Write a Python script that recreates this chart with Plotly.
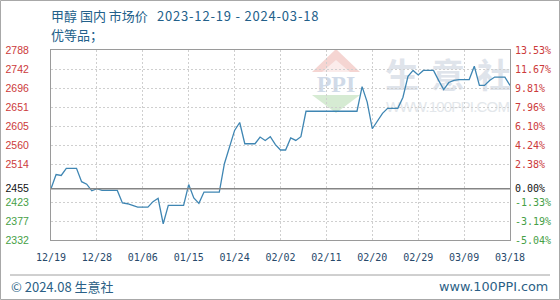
import base64
import pandas as pd
import plotly.graph_objects as go

# ---------------- data ----------------
start_date = "2023-12-19"
end_date = "2024-03-18"
prices = [
    2455, 2489, 2487, 2504, 2504, 2504, 2472, 2466, 2450, 2455,
    2451, 2451, 2451, 2451, 2421, 2419, 2415, 2411, 2411, 2411,
    2424, 2432, 2371, 2415, 2415, 2415, 2415, 2465, 2433, 2420,
    2447, 2447, 2447, 2447, 2515, 2555, 2595, 2614, 2563, 2563,
    2563, 2579, 2571, 2580, 2561, 2548, 2548, 2577, 2571, 2580,
    2641, 2641, 2641, 2641, 2641, 2641, 2641, 2641, 2641, 2641,
    2641, 2700, 2663, 2599, 2619, 2636, 2648, 2648, 2648, 2674,
    2725, 2739, 2728, 2739, 2739, 2739, 2715, 2693, 2710, 2715,
    2717, 2717, 2717, 2749, 2703, 2703, 2715, 2723, 2723, 2723,
    2703,
]
base_price = 2455
y_min, y_max = 2332, 2788
y_tick_vals = [2332, 2377.6, 2423.2, 2455, 2514.4, 2560, 2605.6, 2651.2, 2696.8, 2742.4, 2788]
y_left_labels = ["2332", "2377", "2423", "2455", "2514", "2560", "2605", "2651", "2696", "2742", "2788"]
y_right_labels = ["-5.04%", "-3.19%", "-1.33%", "0.00%", "2.38%", "4.24%", "6.10%", "7.96%", "9.81%", "11.67%", "13.53%"]
x_tick_labels = ["12/19", "12/28", "01/06", "01/15", "01/24", "02/02", "02/11", "02/20", "02/29", "03/09", "03/18"]
title_cjk = "甲醇 国内 市场价"
title_dates = "2023-12-19 - 2024-03-18"
subtitle_text = "优等品；"
footer_left = "© 2024.08 生意社"
footer_right = "www.100PPI.com"

dates = pd.date_range(start_date, end_date, freq="D")
x_tick_vals = pd.date_range(start_date, end_date, freq="9D")

# ---------------- layout geometry ----------------
W, H = 560, 300
L, R, T, B = 51, 50, 50, 60
PW, PH = W - L - R, H - T - B

def px(x):
    return (x - L) / PW

def py(y):
    return (H - B - y) / PH

RED, GREEN, BLACK = "#cc3a3a", "#46a046", "#111111"
TITLE_C = "#22608a"

def colored(labels, vals):
    out = []
    for lab, v in zip(labels, vals):
        c = BLACK if v == base_price else (RED if v > base_price else GREEN)
        out.append(f"<span style='color:{c}'>{lab}</span>")
    return out

fig = go.Figure()
fig.add_trace(go.Scatter(
    x=dates, y=prices, mode="lines",
    line=dict(color="#3f86b3", width=1.3),
    hoverinfo="skip", showlegend=False,
))
fig.add_trace(go.Scatter(
    x=dates, y=prices, mode="lines", yaxis="y2",
    line=dict(color="rgba(0,0,0,0)", width=0),
    hoverinfo="skip", showlegend=False,
))

# watermark as svg image below traces
svg = """<svg xmlns='http://www.w3.org/2000/svg' width='215' height='75' viewBox='0 0 215 75'>
<polygon points='12,27 36,4 60,27' fill='#f5d5d2'/>
<polygon points='22,27 36,15 50,27' fill='#fbeceb'/>
<text x='36' y='47' font-family='Liberation Serif' font-weight='bold' font-size='24' fill='#d0dae8' text-anchor='middle'>PPI</text>
<polygon points='12,50 60,50 36,68' fill='#d6ebd3'/>
<text x='85' y='43' font-family='Noto Sans CJK SC' font-weight='bold' font-size='34' fill='#dfe4eb'>生</text>
<text x='131' y='43' font-family='Noto Sans CJK SC' font-weight='bold' font-size='34' fill='#dfe4eb'>意</text>
<text x='177' y='43' font-family='Noto Sans CJK SC' font-weight='bold' font-size='34' fill='#dfe4eb'>社</text>
<text x='86' y='67' font-family='Liberation Sans' font-size='15' fill='#e3e7eb' textLength='124'>WWW.100PPI.COM</text>
</svg>"""
svg_uri = "data:image/svg+xml;base64," + base64.b64encode(svg.encode("utf-8")).decode()

fig.update_layout(
    width=W, height=H,
    margin=dict(l=L, r=R, t=T, b=B, autoexpand=False),
    paper_bgcolor="white",
    plot_bgcolor="rgba(0,0,0,0)",
    showlegend=False,
    xaxis=dict(
        type="date",
        range=[dates[0], dates[-1]],
        tickvals=x_tick_vals, ticktext=x_tick_labels,
        showgrid=True, gridcolor="#cfcfcf", griddash="2px,2px", gridwidth=1,
        showline=True, linecolor="#9a9a9a", linewidth=1, mirror=True,
        ticks="", zeroline=False, automargin=False,
        tickfont=dict(family="DejaVu Sans Mono", size=10, color="#27496b"),
        ticklabelstandoff=8,
        fixedrange=True,
    ),
    yaxis=dict(
        range=[y_min, y_max],
        tickvals=y_tick_vals, ticktext=colored(y_left_labels, y_tick_vals),
        showgrid=True, gridcolor="#cfcfcf", griddash="2px,2px", gridwidth=1,
        showline=True, linecolor="#9a9a9a", linewidth=1, mirror=True,
        ticks="", zeroline=False, automargin=False,
        tickfont=dict(family="Liberation Sans", size=10.5),
        ticklabelstandoff=19,
        fixedrange=True,
    ),
    yaxis2=dict(
        range=[y_min, y_max], overlaying="y", side="right",
        tickvals=y_tick_vals, ticktext=colored(y_right_labels, y_tick_vals),
        showgrid=False, showline=False, ticks="", zeroline=False, automargin=False,
        tickfont=dict(family="DejaVu Sans Mono", size=10),
        ticklabelstandoff=4,
        fixedrange=True,
    ),
    images=[dict(
        source=svg_uri, xref="paper", yref="paper",
        x=px(300), y=py(45), sizex=215 / PW, sizey=75 / PH,
        xanchor="left", yanchor="top", sizing="stretch", layer="below",
    )],
    shapes=[
        dict(type="line", xref="paper", yref="y", x0=0, x1=1, y0=base_price, y1=base_price,
             line=dict(color="#858585", width=1.5)),
        dict(type="rect", xref="paper", yref="paper",
             x0=px(0.5), x1=px(W - 0.5), y0=py(H - 0.5), y1=py(0.5),
             line=dict(color="#a8a8a8", width=1)),
        dict(type="line", xref="paper", yref="paper",
             x0=px(10), x1=px(550), y0=py(275), y1=py(275),
             line=dict(color="#a0a0a0", width=1)),
    ],
    annotations=[
        dict(text=title_cjk, xref="paper", yref="paper", x=px(49), y=py(15.5),
             xanchor="left", yanchor="middle", showarrow=False,
             font=dict(family="Noto Sans CJK SC", size=13, color=TITLE_C)),
        dict(text=f"<span style='letter-spacing:0.8px'>{title_dates}</span>",
             xref="paper", yref="paper", x=px(155), y=py(15.5),
             xanchor="left", yanchor="middle", showarrow=False,
             font=dict(family="Noto Sans CJK SC", size=13, color=TITLE_C)),
        dict(text=subtitle_text, xref="paper", yref="paper", x=px(49), y=py(34.5),
             xanchor="left", yanchor="middle", showarrow=False,
             font=dict(family="Noto Sans CJK SC", size=13, color=TITLE_C)),
        dict(text=footer_left, xref="paper", yref="paper", x=px(9), y=py(286),
             xanchor="left", yanchor="middle", showarrow=False,
             font=dict(family="Noto Sans CJK SC", size=13, color="#2b5f86")),
        dict(text=footer_right, xref="paper", yref="paper", x=px(550), y=py(286),
             xanchor="right", yanchor="middle", showarrow=False,
             font=dict(family="DejaVu Sans", size=12.8, color="#2b5f86")),
    ],
)

fig.write_html("out.html")
